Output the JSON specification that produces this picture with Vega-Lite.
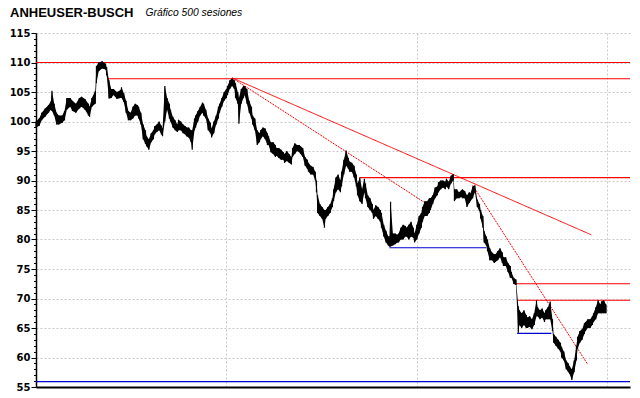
{
"$schema": "https://vega.github.io/schema/vega-lite/v6.json",
"width": 594, "height": 354,
"autosize": {"type": "none"},
"padding": {"left": 36, "top": 33, "right": 10, "bottom": 11},
"background": "white",
"config": {"view": {"stroke": null}},
"title": {"text": "ANHEUSER-BUSCH", "anchor": "start", "frame": "group", "font": "Liberation Sans", "fontSize": 13, "fontWeight": "bold", "color": "black", "dx": -26, "offset": -23, "baseline": "alphabetic"},
"resolve": {"axis": {"y": "independent"}},
"datasets": {
"niveles": [
{"p":110,"a":0,"b":521,"k":"resistencia"},
{"p":107.25,"a":63,"b":521,"k":"resistencia"},
{"p":90.5,"a":284,"b":521,"k":"resistencia"},
{"p":72.5,"a":419,"b":521,"k":"resistencia"},
{"p":69.7,"a":422,"b":521,"k":"resistencia"},
{"p":78.6,"a":310,"b":395,"k":"soporte"},
{"p":64.1,"a":422,"b":452,"k":"soporte"},
{"p":55.9,"a":0,"b":521,"k":"soporte"}
],
"tendencias": [
{"s1":172,"p1":107.4,"s2":487,"p2":80.8,"t":"sólida"},
{"s1":172,"p1":107.4,"s2":347,"p2":85.5,"t":"punteada"},
{"s1":383,"p1":89.2,"s2":484,"p2":58.8,"t":"punteada"}
],
"precios": [
{"s":0,"lo":99.0,"hi":100.0},{"s":3,"lo":99.3,"hi":100.6},{"s":5,"lo":100.2,"hi":101.5},{"s":8,"lo":100.8,"hi":102.2},{"s":11,"lo":101.5,"hi":102.8},{"s":13,"lo":102,"hi":103.4},{"s":14,"lo":101.8,"hi":105.2},{"s":16,"lo":101,"hi":103},{"s":18,"lo":99.5,"hi":101.5},{"s":20,"lo":99.5,"hi":101},{"s":23,"lo":99.8,"hi":101},{"s":25,"lo":100.2,"hi":101.8},{"s":27,"lo":102,"hi":104},{"s":30,"lo":102.5,"hi":104},{"s":32,"lo":101.8,"hi":103.5},{"s":35,"lo":101.5,"hi":103},{"s":38,"lo":102.2,"hi":104},{"s":40,"lo":102.5,"hi":104.2},{"s":43,"lo":102,"hi":103.8},{"s":46,"lo":101,"hi":103},{"s":47,"lo":100.8,"hi":102.5},{"s":49,"lo":102.5,"hi":104},{"s":52,"lo":103,"hi":105.2},{"s":53,"lo":106.5,"hi":109.4},{"s":55,"lo":108.5,"hi":110},{"s":58,"lo":109,"hi":110.2},{"s":61,"lo":108.8,"hi":109.8},{"s":62,"lo":107.8,"hi":109.2},{"s":64,"lo":103.9,"hi":107},{"s":66,"lo":104,"hi":105.5},{"s":68,"lo":104.5,"hi":105.5},{"s":71,"lo":103.8,"hi":105},{"s":74,"lo":104,"hi":105.3},{"s":75,"lo":104,"hi":105.8},{"s":77,"lo":103.3,"hi":104.8},{"s":79,"lo":101.5,"hi":103.5},{"s":81,"lo":100.2,"hi":101.8},{"s":83,"lo":100.2,"hi":101.5},{"s":85,"lo":100.5,"hi":102.5},{"s":87,"lo":101,"hi":103},{"s":89,"lo":101,"hi":102.8},{"s":90,"lo":100.5,"hi":102.5},{"s":92,"lo":99.5,"hi":101.5},{"s":94,"lo":97,"hi":99.5},{"s":96,"lo":96.2,"hi":98.5},{"s":97,"lo":95.8,"hi":97.5},{"s":99,"lo":95.2,"hi":97},{"s":101,"lo":96.5,"hi":98},{"s":103,"lo":97,"hi":98.5},{"s":104,"lo":97.8,"hi":99.2},{"s":106,"lo":98.2,"hi":99.5},{"s":108,"lo":98.5,"hi":100},{"s":110,"lo":97.8,"hi":99.3},{"s":111,"lo":97.5,"hi":98.8},{"s":113,"lo":100,"hi":106},{"s":115,"lo":102,"hi":104},{"s":117,"lo":100.5,"hi":103},{"s":118,"lo":100,"hi":102},{"s":120,"lo":99,"hi":100.8},{"s":122,"lo":98.5,"hi":100.2},{"s":124,"lo":98.2,"hi":99.5},{"s":125,"lo":98.5,"hi":100.3},{"s":127,"lo":98.5,"hi":100},{"s":129,"lo":98,"hi":99.5},{"s":131,"lo":97.8,"hi":99.2},{"s":132,"lo":97.5,"hi":99},{"s":134,"lo":97.3,"hi":99},{"s":136,"lo":96.5,"hi":98.5},{"s":137,"lo":95.2,"hi":98.5},{"s":139,"lo":98.5,"hi":100.5},{"s":140,"lo":99,"hi":101},{"s":142,"lo":100,"hi":101.8},{"s":144,"lo":101,"hi":102.5},{"s":146,"lo":101.5,"hi":103.2},{"s":147,"lo":101,"hi":103},{"s":149,"lo":100.5,"hi":102},{"s":151,"lo":98.5,"hi":100.5},{"s":153,"lo":98,"hi":99.8},{"s":154,"lo":97.3,"hi":98.8},{"s":156,"lo":98,"hi":100},{"s":158,"lo":99.5,"hi":101},{"s":160,"lo":100.5,"hi":102.5},{"s":161,"lo":101.5,"hi":103},{"s":163,"lo":102.5,"hi":104},{"s":165,"lo":103.5,"hi":105},{"s":167,"lo":104,"hi":105.5},{"s":168,"lo":104.5,"hi":106},{"s":170,"lo":105.5,"hi":107},{"s":172,"lo":106,"hi":107.3},{"s":174,"lo":105.5,"hi":107},{"s":175,"lo":104,"hi":106.5},{"s":177,"lo":103,"hi":105},{"s":178,"lo":99.6,"hi":104},{"s":180,"lo":103,"hi":105.5},{"s":182,"lo":104,"hi":106},{"s":183,"lo":104.5,"hi":106},{"s":185,"lo":103,"hi":105.5},{"s":187,"lo":101.5,"hi":103.5},{"s":189,"lo":100.5,"hi":102.5},{"s":190,"lo":99.5,"hi":101},{"s":192,"lo":98.5,"hi":100.5},{"s":194,"lo":96,"hi":98.5},{"s":196,"lo":96.5,"hi":98},{"s":197,"lo":97,"hi":98.5},{"s":199,"lo":97.5,"hi":99},{"s":201,"lo":97,"hi":98.8},{"s":203,"lo":96,"hi":98},{"s":204,"lo":96,"hi":97.5},{"s":206,"lo":94.8,"hi":96.5},{"s":208,"lo":94.5,"hi":96.5},{"s":210,"lo":94,"hi":96},{"s":211,"lo":94.2,"hi":95.5},{"s":213,"lo":93.8,"hi":95.5},{"s":215,"lo":93.5,"hi":95.2},{"s":217,"lo":93.5,"hi":94.8},{"s":218,"lo":93,"hi":94.5},{"s":220,"lo":93.3,"hi":95},{"s":222,"lo":93,"hi":94.5},{"s":224,"lo":92.7,"hi":94},{"s":225,"lo":94,"hi":95.5},{"s":227,"lo":94.5,"hi":96.3},{"s":229,"lo":95,"hi":96},{"s":231,"lo":94.8,"hi":96},{"s":232,"lo":94.5,"hi":95.8},{"s":234,"lo":94,"hi":95.5},{"s":236,"lo":92.5,"hi":94},{"s":238,"lo":92,"hi":93.5},{"s":239,"lo":91.5,"hi":93},{"s":241,"lo":91,"hi":92.5},{"s":243,"lo":91,"hi":92.3},{"s":245,"lo":90,"hi":91.5},{"s":246,"lo":88,"hi":90},{"s":247,"lo":84.5,"hi":87.5},{"s":249,"lo":84,"hi":86},{"s":251,"lo":83.5,"hi":85.5},{"s":253,"lo":82,"hi":85},{"s":254,"lo":83.5,"hi":85},{"s":256,"lo":84,"hi":85.5},{"s":258,"lo":84.5,"hi":86},{"s":260,"lo":85.5,"hi":87},{"s":261,"lo":86.5,"hi":88.5},{"s":263,"lo":88,"hi":90.5},{"s":265,"lo":88.5,"hi":91},{"s":267,"lo":88,"hi":90},{"s":268,"lo":89,"hi":91.5},{"s":270,"lo":91,"hi":93.5},{"s":272,"lo":92.5,"hi":95.1},{"s":274,"lo":92,"hi":93.8},{"s":275,"lo":91.5,"hi":93.2},{"s":277,"lo":91.5,"hi":93},{"s":279,"lo":90.5,"hi":92.5},{"s":281,"lo":89,"hi":91},{"s":282,"lo":87.5,"hi":89.5},{"s":284,"lo":86.5,"hi":90.5},{"s":286,"lo":86,"hi":88.5},{"s":288,"lo":88,"hi":90.3},{"s":289,"lo":87,"hi":89.5},{"s":291,"lo":85.5,"hi":87.5},{"s":293,"lo":85,"hi":87},{"s":295,"lo":84.5,"hi":86},{"s":296,"lo":83.5,"hi":85},{"s":298,"lo":84,"hi":85.8},{"s":300,"lo":83.5,"hi":85.5},{"s":302,"lo":83,"hi":85},{"s":303,"lo":82,"hi":84.5},{"s":305,"lo":80.5,"hi":82.5},{"s":307,"lo":79.5,"hi":81.5},{"s":309,"lo":79,"hi":80.5},{"s":310,"lo":78.8,"hi":80.5},{"s":311,"lo":78.8,"hi":86.4},{"s":313,"lo":79,"hi":81},{"s":315,"lo":79.2,"hi":81},{"s":317,"lo":79.5,"hi":80.8},{"s":318,"lo":79.5,"hi":81},{"s":320,"lo":80,"hi":82},{"s":322,"lo":80,"hi":82.5},{"s":324,"lo":80.5,"hi":82.3},{"s":325,"lo":80.5,"hi":82},{"s":327,"lo":80,"hi":82.5},{"s":329,"lo":80.5,"hi":83},{"s":331,"lo":80.3,"hi":82},{"s":332,"lo":79.5,"hi":81},{"s":334,"lo":80,"hi":82.5},{"s":336,"lo":81,"hi":84},{"s":338,"lo":82,"hi":84.5},{"s":339,"lo":83,"hi":85.5},{"s":341,"lo":84,"hi":86.5},{"s":343,"lo":84,"hi":86.5},{"s":345,"lo":84.5,"hi":87},{"s":346,"lo":85,"hi":87},{"s":348,"lo":86,"hi":87.5},{"s":350,"lo":87,"hi":88.8},{"s":352,"lo":87.5,"hi":89},{"s":353,"lo":88,"hi":89.7},{"s":355,"lo":88.5,"hi":90},{"s":357,"lo":88.8,"hi":90},{"s":359,"lo":88.5,"hi":89.8},{"s":360,"lo":89,"hi":90.3},{"s":362,"lo":88.5,"hi":89.8},{"s":364,"lo":89.5,"hi":90.8},{"s":366,"lo":90,"hi":91.1},{"s":367,"lo":86.5,"hi":88.5},{"s":369,"lo":87,"hi":88.5},{"s":371,"lo":87,"hi":88},{"s":373,"lo":87.2,"hi":88.3},{"s":374,"lo":87,"hi":88.5},{"s":376,"lo":87,"hi":88.2},{"s":378,"lo":85.5,"hi":87.5},{"s":380,"lo":86.2,"hi":88},{"s":381,"lo":86.5,"hi":87.8},{"s":383,"lo":87,"hi":89},{"s":385,"lo":88,"hi":89.2},{"s":387,"lo":85.5,"hi":86.8},{"s":389,"lo":84.8,"hi":86},{"s":390,"lo":83.5,"hi":85},{"s":392,"lo":82,"hi":84},{"s":393,"lo":79.5,"hi":81.5},{"s":395,"lo":79,"hi":80.5},{"s":396,"lo":78,"hi":80},{"s":398,"lo":76.5,"hi":78.5},{"s":400,"lo":76.5,"hi":77.8},{"s":402,"lo":76,"hi":77.5},{"s":403,"lo":76.2,"hi":77.5},{"s":405,"lo":76.5,"hi":78},{"s":407,"lo":77,"hi":78.5},{"s":409,"lo":76,"hi":77.8},{"s":410,"lo":75.5,"hi":77},{"s":412,"lo":75.5,"hi":77},{"s":414,"lo":74.5,"hi":76},{"s":416,"lo":73.5,"hi":75.5},{"s":417,"lo":73.5,"hi":74.5},{"s":419,"lo":72.5,"hi":73.5},{"s":421,"lo":72.3,"hi":73.2},{"s":423,"lo":64.2,"hi":68.7},{"s":424,"lo":65.5,"hi":68},{"s":426,"lo":65,"hi":67.5},{"s":428,"lo":65.5,"hi":68},{"s":430,"lo":65,"hi":67.2},{"s":431,"lo":65,"hi":66.8},{"s":433,"lo":65.2,"hi":67},{"s":435,"lo":64.8,"hi":66.5},{"s":437,"lo":65.5,"hi":67.5},{"s":439,"lo":67,"hi":69.7},{"s":440,"lo":67,"hi":68.5},{"s":442,"lo":66.5,"hi":68},{"s":444,"lo":66.8,"hi":68.3},{"s":446,"lo":66,"hi":67.5},{"s":447,"lo":66.5,"hi":68},{"s":449,"lo":66.5,"hi":68.5},{"s":451,"lo":66.5,"hi":69.5},{"s":453,"lo":64.5,"hi":66.5},{"s":454,"lo":62.5,"hi":64},{"s":456,"lo":62,"hi":63.5},{"s":458,"lo":61.5,"hi":63},{"s":460,"lo":61,"hi":62.5},{"s":461,"lo":60,"hi":61.8},{"s":463,"lo":59.5,"hi":61},{"s":465,"lo":58,"hi":59.5},{"s":467,"lo":57.5,"hi":59},{"s":468,"lo":57.2,"hi":58.5},{"s":470,"lo":56.2,"hi":58},{"s":472,"lo":57.5,"hi":59.5},{"s":474,"lo":59.5,"hi":62},{"s":475,"lo":61.5,"hi":63.5},{"s":477,"lo":62.5,"hi":64.5},{"s":479,"lo":63,"hi":64.8},{"s":481,"lo":64,"hi":65.8},{"s":482,"lo":64.5,"hi":66},{"s":484,"lo":65,"hi":66.5},{"s":486,"lo":65,"hi":66.5},{"s":488,"lo":65.5,"hi":67},{"s":489,"lo":66,"hi":67.5},{"s":491,"lo":66.5,"hi":68.5},{"s":493,"lo":67.5,"hi":69.7},{"s":495,"lo":67.5,"hi":69},{"s":496,"lo":67.5,"hi":69.5},{"s":498,"lo":67.5,"hi":69.7},{"s":500,"lo":67.5,"hi":69}
]
},
"layer": [
{
"data": {"name": "niveles"},
"mark": {"type": "rule", "strokeWidth": 1.2},
"encoding": {
"x": {"field": "a", "type": "quantitative", "scale": {"domain": [0, 521], "nice": false, "zero": false},
 "axis": {"values": [167, 334, 501], "labels": false, "ticks": false, "title": null, "domainColor": "black", "domainWidth": 2, "grid": true, "gridColor": "#c8c8c8", "gridDash": [2, 2]}},
"x2": {"field": "b"},
"y": {"field": "p", "type": "quantitative", "scale": {"domain": [55, 115], "nice": false, "zero": false},
 "axis": {
  "orient": "left",
  "values": [55,60,65,70,75,80,85,90,95,100,105,110,115],
  "labelOverlap": false, "labelBound": false, "labelFlush": false,
  "labelFont": "DejaVu Sans", "labelFontWeight": "bold", "labelFontSize": 10, "labelColor": "black", "labelPadding": 1,
  "tickColor": "black", "tickSize": 5, "tickWidth": 1,
  "domainColor": "black", "domainWidth": 1.5,
  "grid": true, "gridColor": "#c8c8c8", "gridDash": [2, 2],
  "title": "Gráfico 500 sesiones", "titleAngle": 0, "titleX": 109, "titleY": -18, "titleAlign": "left", "titleBaseline": "alphabetic",
  "titleFont": "Liberation Sans", "titleFontStyle": "italic", "titleFontWeight": "normal", "titleFontSize": 10.3, "titleColor": "black"
 }},
"color": {"field": "k", "type": "nominal", "scale": {"domain": ["resistencia", "soporte"], "range": ["#ff0000", "#0000cc"]}, "legend": null}
}
},
{
"data": {"name": "tendencias"},
"mark": {"type": "rule", "strokeWidth": 1, "color": "#ff0000"},
"encoding": {
"x": {"field": "s1", "type": "quantitative", "axis": {"title": null}},
"x2": {"field": "s2"},
"y": {"field": "p1", "type": "quantitative",
 "axis": {"orient": "left", "values": [56,57,58,59,61,62,63,64,66,67,68,69,71,72,73,74,76,77,78,79,81,82,83,84,86,87,88,89,91,92,93,94,96,97,98,99,101,102,103,104,106,107,108,109,111,112,113,114], "labels": false, "tickSize": 2.5, "tickColor": "black", "tickWidth": 1, "grid": false, "domain": false, "title": null}},
"y2": {"field": "p2"},
"strokeDash": {"field": "t", "type": "nominal", "scale": {"domain": ["sólida", "punteada"], "range": [[1, 0], [2, 1]]}, "legend": null}
}
},
{
"data": {"name": "precios"},
"mark": {"type": "area", "color": "black"},
"encoding": {
"x": {"field": "s", "type": "quantitative", "axis": {"title": null}},
"y": {"field": "lo", "type": "quantitative", "axis": null},
"y2": {"field": "hi"}
}
},
{
"data": {"name": "precios"},
"mark": {"type": "rule", "color": "black", "strokeWidth": 1.2},
"encoding": {
"x": {"field": "s", "type": "quantitative", "axis": {"title": null}},
"y": {"field": "lo", "type": "quantitative", "axis": null},
"y2": {"field": "hi"}
}
}
]
}
